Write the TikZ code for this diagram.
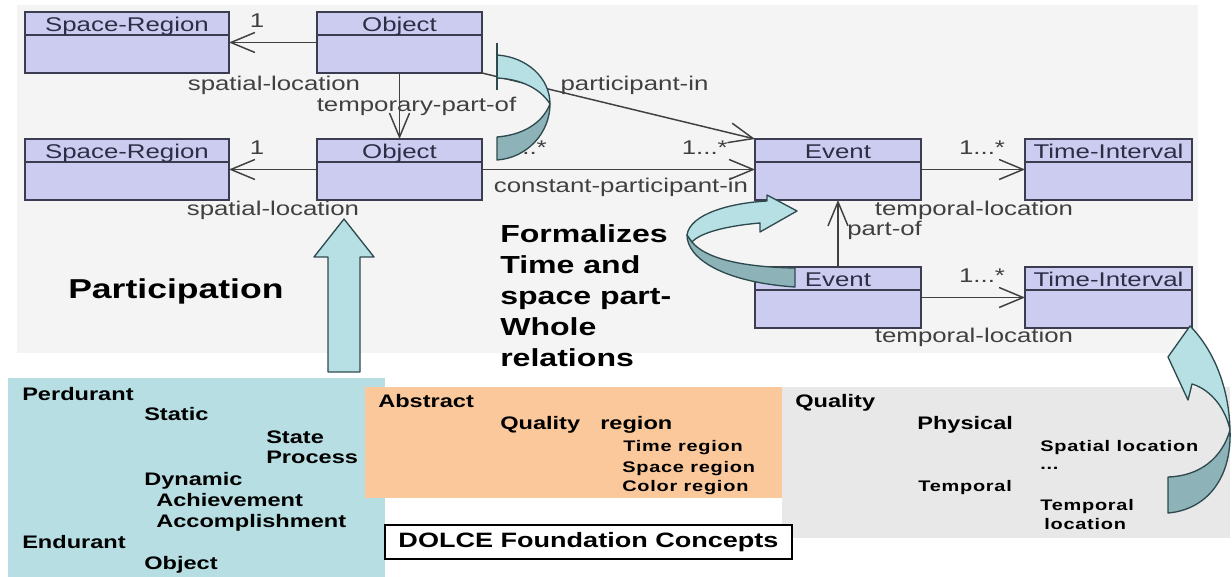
\documentclass[tikz,border=0pt]{standalone}
\usepackage{fontspec}
\setmainfont{Liberation Sans}
\newfontfamily\wf[FakeStretch=1.3]{Liberation Sans}
\newfontfamily\wfs[FakeStretch=1.3,LetterSpace=5]{Liberation Sans}
\usetikzlibrary{arrows.meta}
\definecolor{bgpanel}{RGB}{244,244,244}
\definecolor{umlfill}{RGB}{204,204,240}
\definecolor{umlline}{RGB}{60,60,80}
\definecolor{umltext}{RGB}{45,45,70}
\definecolor{lbl}{RGB}{64,64,64}
\definecolor{tealp}{RGB}{183,222,226}
\definecolor{orangep}{RGB}{250,200,155}
\definecolor{grayp}{RGB}{232,232,232}
\definecolor{arrlight}{RGB}{183,224,228}
\definecolor{arrdark}{RGB}{141,179,184}
\definecolor{arrline}{RGB}{46,74,78}
\begin{document}
\begin{tikzpicture}[x=0.75pt,y=-0.75pt,
  umlbox/.style={draw=umlline, fill=umlfill, line width=1.5pt, inner sep=0pt, outer sep=0pt, minimum height=45.75pt},
  umldiv/.style={draw=umlline, line width=1.5pt},
  hdr/.style={font=\wf\fontsize{14.9}{16}\selectfont, text=umltext, inner sep=0pt, anchor=base},
  lab/.style={font=\wf\fontsize{14.9}{16}\selectfont, text=lbl, inner sep=0pt, anchor=base},
  conn/.style={draw=lbl, line width=1.1pt, -{Straight Barb[length=18pt,width=15pt]}},
  midt/.style={font=\wf\bfseries\fontsize{13.6}{15}\selectfont, inner sep=0pt, anchor=base west},
  smt/.style={font=\wfs\bfseries\fontsize{11.5}{13}\selectfont, inner sep=0pt, anchor=base west},
  bigt/.style={font=\wf\bfseries\fontsize{18.5}{20}\selectfont, inner sep=0pt, anchor=base west},
  ribL/.style={fill=arrlight, draw=arrline, line width=1pt, line join=round},
  ribD/.style={fill=arrdark, draw=arrline, line width=1pt, line join=round}
]
\useasboundingbox (0,0) rectangle (1232,577);
\fill[white] (0,0) rectangle (1232,577);
\fill[bgpanel] (17,5) rectangle (1198,353);
\fill[tealp] (8,378) rectangle (385,577);
\fill[orangep] (365,387) rectangle (782,498);
\fill[grayp] (782,387) rectangle (1230,538);

% UML boxes
\node[umlbox, minimum width=153pt] (sr1) at (127,42.5) {};
\node[umlbox, minimum width=123.75pt] (ob1) at (399.5,42.5) {};
\node[umlbox, minimum width=153pt] (sr2) at (127,169.5) {};
\node[umlbox, minimum width=123.75pt] (ob2) at (399.5,169.5) {};
\node[umlbox, minimum width=124.5pt] (ev1) at (838,169.5) {};
\node[umlbox, minimum width=125.25pt] (ti1) at (1108.5,169.5) {};
\node[umlbox, minimum width=124.5pt] (ev2) at (838,297.5) {};
\node[umlbox, minimum width=125.25pt] (ti2) at (1108.5,297.5) {};
\foreach \b in {sr1,ob1,sr2,ob2,ev1,ti1,ev2,ti2}{
  \draw[umldiv] ([yshift=-17.25pt]\b.north west) -- ([yshift=-17.25pt]\b.north east);
}
\node[hdr] (sr1t) at ([yshift=-14.6pt]sr1.north) {Space-Region};
\node[hdr] (ob1t) at ([yshift=-14.6pt]ob1.north) {Object};
\node[hdr] (sr2t) at ([yshift=-14.6pt]sr2.north) {Space-Region};
\node[hdr] (ob2t) at ([yshift=-14.6pt]ob2.north) {Object};
\node[hdr] (ev1t) at ([yshift=-14.6pt]ev1.north) {Event};
\node[hdr] (ti1t) at ([yshift=-14.6pt]ti1.north) {Time-Interval};
\node[hdr] (ev2t) at ([yshift=-14.6pt]ev2.north) {Event};
\node[hdr] (ti2t) at ([yshift=-14.6pt]ti2.north) {Time-Interval};

% connectors
\draw[conn] (ob1.west) -- (sr1.east);
\draw[conn] (ob2.west) -- (sr2.east);
\draw[conn] (ob1.south) -- (ob2.north);
\draw[conn] (ob1.south east) -- (ev1.north west);
\draw[conn] (ob2.east) -- (ev1.west);
\draw[conn] (ev1.east) -- (ti1.west);
\draw[conn] (ev2.north) -- (ev1.south);
\draw[conn] (ev2.east) -- (ti2.west);

% connector labels
\node[lab] (m1) at (257,28) {1};
\node[lab] (l1) at (274,91) {spatial-location};
\node[lab] (m2) at (257,155) {1};
\node[lab] (l2) at (273,216) {spatial-location};
\node[lab] (l3) at (416.5,112) {temporary-part-of};
\node[lab] (l4) at (634.5,91) {participant-in};
\node[lab, anchor=base east] (m3) at (728,155) {1...*};
\node[lab, anchor=base east] (m4) at (547,155) {1...*};
\node[lab] (l5) at (621,193) {constant-participant-in};
\node[lab] (m5) at (982,155) {1...*};
\node[lab] (l6) at (974,216) {temporal-location};
\node[lab, anchor=base west] (l7) at (847,236) {part-of};
\node[lab] (m6) at (982,283) {1...*};
\node[lab] (l8) at (974,343) {temporal-location};

% ribbon arrow A (between Object and Event)
\path[ribL] (497,55) .. controls (527,57) and (550,78) .. (550,104)
   .. controls (540,88) and (520,79) .. (497,78) -- cycle;
\path[ribD] (550,104) .. controls (550,133) and (527,158) .. (497,160)
   -- (497,137) .. controls (522,135) and (542,124) .. (550,104) -- cycle;
\draw[arrline, line width=1pt] (497,43) -- (497,90);

% ribbon arrow B (towards Event)
\path[ribD] (687,235) .. controls (687,258) and (722,282) .. (795,287)
   -- (795,268) .. controls (740,267) and (705,258) .. (692,242) -- cycle;
\path[ribL] (687,235) .. controls (690,214) and (730,203) .. (767,201)
   -- (767,195) -- (797,211) -- (760,232) -- (760,223)
   .. controls (725,226) and (700,233) .. (692,242) -- cycle;

% ribbon arrow C (towards Time-Interval)
\path[ribL] (1190,326) -- (1168,357) -- (1188,400) -- (1192,384)
   .. controls (1212,390) and (1226,410) .. (1230,430)
   .. controls (1229,385) and (1212,348) .. (1190,326) -- cycle;
\path[ribD] (1230,430) .. controls (1232,480) and (1205,510) .. (1168,513)
   -- (1168,477) .. controls (1200,476) and (1222,458) .. (1230,430) -- cycle;

% participation block arrow
\path[ribL] (328,372) -- (328,257) -- (314,257) -- (344,219) -- (374,257)
   -- (360,257) -- (360,372) -- cycle;

% big texts
\node[bigt, font=\wf\bfseries\fontsize{20.5}{22}\selectfont] (part) at (68,299) {Participation};
\node[bigt] (f1) at (500,243) {Formalizes};
\node[bigt] (f2) at (500,274) {Time and};
\node[bigt] (f3) at (500,305) {space part-};
\node[bigt] (f4) at (500,336) {Whole};
\node[bigt] (f5) at (500,367) {relations};

% teal panel texts
\node[midt] (t1) at (22,400) {Perdurant};
\node[midt] (t2) at (144,421) {Static};
\node[midt] (t3) at (266,443) {State};
\node[midt] (t4) at (266,463) {Process};
\node[midt] (t5) at (144,485) {Dynamic};
\node[midt] (t6) at (156,506) {Achievement};
\node[midt] (t7) at (156,527) {Accomplishment};
\node[midt] (t8) at (22,548) {Endurant};
\node[midt] (t9) at (144,569) {Object};

% orange panel texts
\node[midt] (o1) at (378,407) {Abstract};
\node[midt] (o2) at (500,429) {Quality};
\node[midt] (o3) at (600,429) {region};
\node[smt] (o4) at (623,451) {Time region};
\node[smt] (o5) at (622,472) {Space region};
\node[smt] (o6) at (622,491) {Color region};

% gray panel texts
\node[midt] (g1) at (795,407) {Quality};
\node[midt] (g2) at (917,429) {Physical};
\node[smt] (g3) at (1040,451) {Spatial location};
\node[smt] (g4) at (1040,469) {...};
\node[smt] (g5) at (918,491) {Temporal};
\node[smt] (g6) at (1040,510) {Temporal};
\node[smt] (g7) at (1044,529) {location};

% DOLCE box
\node[draw=black, fill=white, line width=0.9pt, inner sep=0pt, minimum width=305.25pt, minimum height=25.5pt,
      font=\wf\bfseries\fontsize{15.6}{17}\selectfont] (dolce) at (588.5,542) {DOLCE Foundation Concepts};
\end{tikzpicture}
\end{document}
